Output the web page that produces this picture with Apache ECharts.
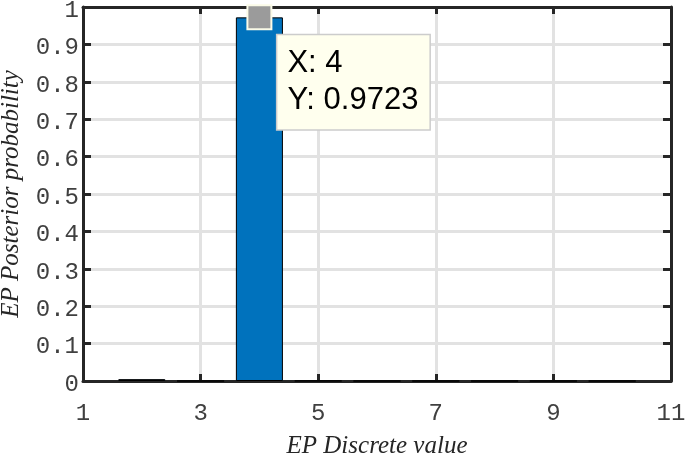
<!DOCTYPE html>
<html><head><meta charset="utf-8">
<script src="https://cdn.jsdelivr.net/npm/echarts@6/dist/echarts.min.js"></script>
<style>html,body{margin:0;padding:0;background:#fff}#c{width:685px;height:456px}</style>
</head><body><div id="c"></div>
<script>
var xValues = [2, 3, 4, 5, 6, 7, 8, 9, 10];
var probabilities = [0.005, 0, 0.9723, 0.0005, 0, 0, 0, 0, 0];
var xTicks = [1, 3, 5, 7, 9, 11];
var yTicks = [0, 0.1, 0.2, 0.3, 0.4, 0.5, 0.6, 0.7, 0.8, 0.9, 1];
var tipPoint = [4, 0.9723];
var xName = 'EP Discrete value';
var yName = 'EP Posterior probability';

var chart = echarts.init(document.getElementById('c'));
var axisColor = '#262626';
var mono = 'Liberation Mono';
var serif = 'Liberation Serif';
function fmtY(v){ return '{a|' + (Math.round(v*10)/10).toString() + '}'; }
var baseX = {
  type: 'value', min: xTicks[0], max: xTicks[xTicks.length-1], interval: xTicks[1]-xTicks[0],
  axisLine: {show: true, onZero: false, lineStyle: {color: axisColor, width: 3}},
  axisTick: {show: true, inside: true, length: 7, lineStyle: {color: axisColor, width: 3}}
};
var baseY = {
  type: 'value', min: yTicks[0], max: yTicks[yTicks.length-1], interval: yTicks[1]-yTicks[0],
  axisLine: {show: true, onZero: false, lineStyle: {color: axisColor, width: 3}},
  axisTick: {show: true, inside: true, length: 8, lineStyle: {color: axisColor, width: 3}}
};
chart.setOption({
  animation: false,
  grid: {left: 83, right: 14, top: 7, bottom: 75, containLabel: false, outerBoundsMode: 'none'},
  xAxis: [
    Object.assign({}, baseX, {
      position: 'bottom',
      name: xName, nameLocation: 'middle', nameGap: 53,
      nameTextStyle: {fontFamily: serif, fontStyle: 'italic', fontSize: 25, color: '#262626'},
      axisLabel: {margin: 21, fontFamily: mono, fontSize: 24, color: '#404040'},
      splitLine: {show: true, lineStyle: {color: '#e2e2e2', width: 3}}
    }),
    Object.assign({}, baseX, {position: 'top', axisLabel: {show: false}, splitLine: {show: false}})
  ],
  yAxis: [
    Object.assign({}, baseY, {
      position: 'left',
      name: yName, nameLocation: 'middle', nameGap: 59, nameRotate: 90,
      nameTextStyle: {fontFamily: serif, fontStyle: 'italic', fontSize: 25, color: '#262626'},
      axisLabel: {margin: 4, fontFamily: mono, fontSize: 24, color: '#404040', formatter: fmtY,
        rich: {a: {fontFamily: mono, fontSize: 24, color: '#404040', padding: [7, 0, 0, 0]}}},
      splitLine: {show: true, lineStyle: {color: '#e2e2e2', width: 3}}
    }),
    Object.assign({}, baseY, {position: 'right', axisLabel: {show: false}, splitLine: {show: false}})
  ],
  series: [
    {
      type: 'bar', xAxisIndex: 0, yAxisIndex: 0, barWidth: '80%', clip: true,
      data: xValues.map(function(x, i){ return [x, probabilities[i]]; }),
      itemStyle: {color: '#0072BD', borderColor: '#000', borderWidth: 1}
    },
    {
      type: 'scatter', xAxisIndex: 0, yAxisIndex: 0, z: 20, clip: false,
      symbol: 'rect', symbolSize: 24,
      itemStyle: {color: '#9b9b9b', borderColor: '#fbfbe8', borderWidth: 2, opacity: 1},
      data: [tipPoint],
      label: {
        show: true, position: [31, 31], align: 'left', verticalAlign: 'top',
        formatter: function(p){ return 'X: ' + p.value[0] + '\nY: ' + p.value[1]; },
        fontFamily: 'Liberation Sans', fontSize: 31, lineHeight: 37, color: '#000',
        backgroundColor: '#ffffee', borderColor: '#cccccc', borderWidth: 1.5,
        padding: [10, 11, 10, 10]
      }
    }
  ]
});
</script></body></html>
